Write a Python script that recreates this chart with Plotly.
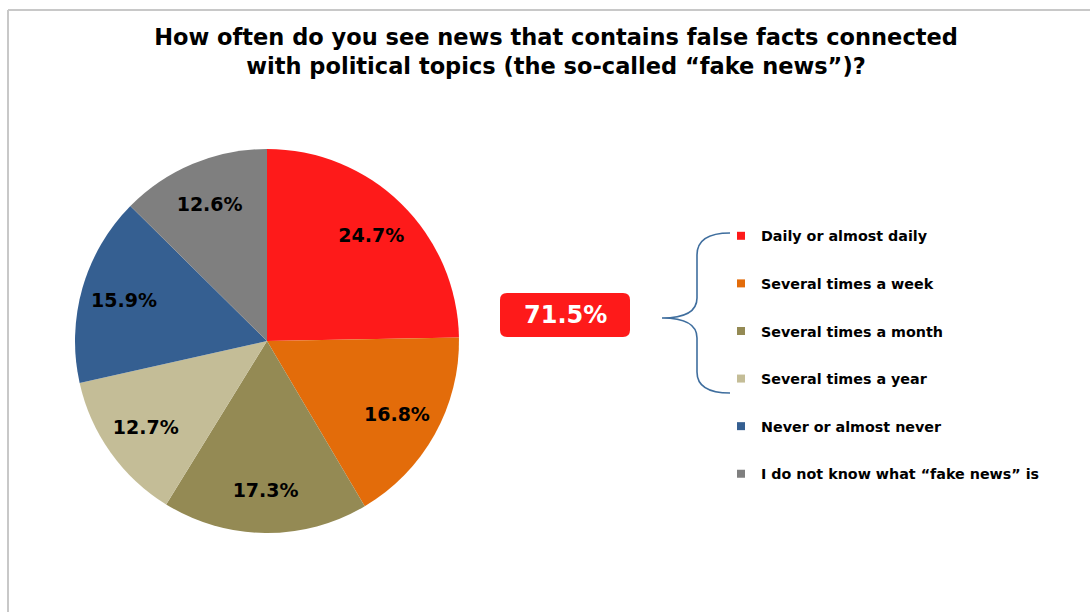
import plotly.graph_objects as go

categories = ["Daily or almost daily", "Several times a week", "Several times a month",
              "Several times a year", "Never or almost never", "I do not know what \u201cfake news\u201d is"]
values = [24.7, 16.8, 17.3, 12.7, 15.9, 12.6]
colors = ["#FE1A1A", "#E36C0A", "#948A54", "#C4BD97", "#355F91", "#7F7F7F"]
title_text = "How often do you see news that contains false facts connected<br>with political topics (the so-called \u201cfake news\u201d)?"

W, H = 1090, 612
FONT = "DejaVu Sans, Verdana, sans-serif"

fig = go.Figure()

# pie geometry (pixels)
cx, cy, r = 267, 341, 192
dom = dict(x=[(cx - r) / W, (cx + r) / W], y=[1 - (cy + r) / H, 1 - (cy - r) / H])
fig.add_trace(go.Pie(
    labels=categories, values=values, sort=False, direction="clockwise", rotation=0,
    marker=dict(colors=colors, line=dict(width=0)),
    textinfo="none", domain=dom, showlegend=False, hoverinfo="label+percent",
))
# transparent ring overlay carrying the percentage labels near the rim
fig.add_trace(go.Pie(
    labels=categories, values=values, sort=False, direction="clockwise", rotation=0, hole=0.55,
    marker=dict(colors=["rgba(0,0,0,0)"] * len(values), line=dict(width=0)),
    texttemplate="%{value:.1f}%", textposition="inside", insidetextorientation="horizontal",
    textfont=dict(family=FONT, size=19, color="black", weight="bold"),
    domain=dom, showlegend=False, hoverinfo="skip",
))

# legend entries (dummy traces, one group each for spacing)
for cat, col in zip(categories, colors):
    fig.add_trace(go.Scatter(
        x=[None], y=[None], mode="markers", name=cat, legendgroup=cat,
        marker=dict(symbol="square", size=8, color=col),
    ))

# summary box value from first four categories
summary = sum(values[:4])
bx0, bx1, by0, by1, rad = 500, 630, 293, 337, 7
def px(x):
    return x / W
def py(y):
    return 1 - y / H
path = (f"M {px(bx0+rad)},{py(by0)} L {px(bx1-rad)},{py(by0)} Q {px(bx1)},{py(by0)} {px(bx1)},{py(by0+rad)} "
        f"L {px(bx1)},{py(by1-rad)} Q {px(bx1)},{py(by1)} {px(bx1-rad)},{py(by1)} "
        f"L {px(bx0+rad)},{py(by1)} Q {px(bx0)},{py(by1)} {px(bx0)},{py(by1-rad)} "
        f"L {px(bx0)},{py(by0+rad)} Q {px(bx0)},{py(by0)} {px(bx0+rad)},{py(by0)} Z")
shapes = [
    dict(type="path", xref="paper", yref="paper", path=path, fillcolor="#FE1A1A", line=dict(width=0)),
]
# brace
brace = (f"M {px(730)},{py(233)} Q {px(697)},{py(233)} {px(697)},{py(255)} L {px(697)},{py(298)} "
         f"Q {px(697)},{py(318)} {px(662)},{py(318)} Q {px(697)},{py(318)} {px(697)},{py(338)} "
         f"L {px(697)},{py(372)} Q {px(697)},{py(393)} {px(730)},{py(393)}")
shapes.append(dict(type="path", xref="paper", yref="paper", path=brace,
                   line=dict(color="#3F6E9E", width=1.6)))
# frame
shapes.append(dict(type="line", xref="paper", yref="paper", x0=px(8), x1=1.01, y0=py(10), y1=py(10),
                   line=dict(color="#C8C8C8", width=2)))
shapes.append(dict(type="line", xref="paper", yref="paper", x0=px(8), x1=px(8), y0=py(10), y1=-0.01,
                   line=dict(color="#C8C8C8", width=2)))

fig.update_layout(
    width=W, height=H, margin=dict(l=0, r=0, t=0, b=0),
    paper_bgcolor="white", plot_bgcolor="white",
    xaxis=dict(visible=False, domain=[0.9, 0.95]), yaxis=dict(visible=False, domain=[0.9, 0.95]),
    title=dict(text=title_text, x=556 / W, xanchor="center", y=1 - 45 / H, yanchor="top",
               font=dict(family=FONT, size=22.5, color="black", weight="bold")),
    legend=dict(x=px(721), xanchor="left", y=py(220), yanchor="top", tracegroupgap=26,
                font=dict(family=FONT, size=14.3, color="black", weight="bold"),
                bgcolor="rgba(0,0,0,0)", itemclick=False, itemdoubleclick=False),
    shapes=shapes,
    annotations=[dict(text=f"{summary:.1f}%", xref="paper", yref="paper",
                      x=px((bx0 + bx1) / 2), y=py((by0 + by1) / 2), showarrow=False,
                      font=dict(family=FONT, size=24, color="white", weight="bold"))],
)

fig.write_html("out.html")
